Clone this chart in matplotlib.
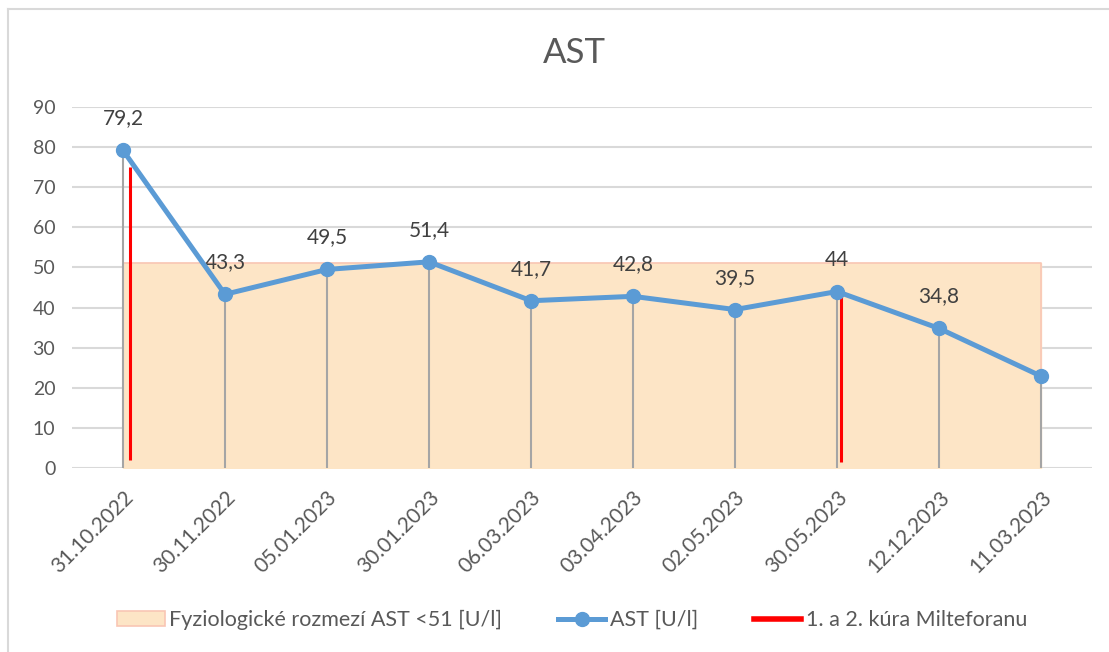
import matplotlib.pyplot as plt
from matplotlib.patches import Patch
from matplotlib.lines import Line2D

plt.rcParams['font.family'] = ['Lato', 'DejaVu Sans']

# data
dates = ['31.10.2022', '30.11.2022', '05.01.2023', '30.01.2023', '06.03.2023',
         '03.04.2023', '02.05.2023', '30.05.2023', '12.12.2023', '11.03.2023']
ast_vals = [79.2, 43.3, 49.5, 51.4, 41.7, 42.8, 39.5, 44, 34.8, 22.9]
ast_labels = ['79,2', '43,3', '49,5', '51,4', '41,7', '42,8', '39,5', '44', '34,8', '']
ref_limit = 51
# treatment markers (slightly right of the category)
cure_x = [0.07, 7.04]
cure_low = [2, 1.6]
cure_high = [75, 43.5]

txt_col = '#595959'
blue = '#5B9BD5'

fig = plt.figure(figsize=(11.09, 6.52), dpi=100)
ax = fig.add_axes([0.0649, 0.2822, 0.9198, 0.5537])

x = list(range(len(dates)))

# physiological range box
ax.fill_between([x[0], x[-1]], 0, ref_limit, color='#FDE5C6', zorder=1)
ax.plot([x[0], x[0], x[-1], x[-1]], [0, ref_limit, ref_limit, 0], color='#F9C6B4', lw=1.2, zorder=1)

# drop lines
ax.vlines(x, 0, ast_vals, color='#A5A5A5', lw=1.5, zorder=2)

# red treatment lines
ax.vlines(cure_x, cure_low, cure_high, color='#FF0000', lw=2.2, zorder=3)

ax.plot(x, ast_vals, color=blue, lw=3.6, marker='o', ms=10, zorder=4)

for xi, v, lab in zip(x, ast_vals, ast_labels):
    ax.annotate(lab, (xi, v), xytext=(0, 23), textcoords='offset points',
                ha='center', va='center', fontsize=15, color='#404040')

ax.set_xlim(-0.5, 9.5)
ax.set_ylim(0, 90)
ax.set_yticks(range(0, 91, 10))
ax.grid(axis='y', color='#D9D9D9', lw=1.5, zorder=0)
ax.set_axisbelow(True)
for s in ax.spines.values():
    s.set_visible(False)
ax.tick_params(length=0, colors=txt_col)
ax.tick_params(axis='y', pad=12, labelsize=14)
ax.set_xticks(x)
ax.set_xticklabels(dates, rotation=45, ha='right', rotation_mode='anchor')
ax.tick_params(axis='x', pad=14, labelsize=15)

fig.text(0.518, 0.918, 'AST', ha='center', va='center', fontsize=25, color=txt_col)

handles = [
    Patch(facecolor='#FDE5C6', edgecolor='#F9C6B4', lw=1.2),
    Line2D([], [], color=blue, lw=3.6, marker='o', ms=10),
    Line2D([], [], color='#FF0000', lw=4),
]
labels = ['Fyziologické rozmezí AST <51 [U/l]', 'AST [U/l]', '1. a 2. kúra Milteforanu']
fig.legend(handles, labels, loc='center', bbox_to_anchor=(0.516, 0.049), ncol=3,
           frameon=False, fontsize=15.5, labelcolor=txt_col, handlelength=2.2,
           handletextpad=0.2, columnspacing=2.6)

# chart frame (left and top edges visible)
fig.add_artist(Line2D([0.0072, 0.0072], [0, 0.986], color='#D9D9D9', lw=1.5, transform=fig.transFigure))
fig.add_artist(Line2D([0.0072, 1], [0.986, 0.986], color='#D9D9D9', lw=1.5, transform=fig.transFigure))

fig.savefig('out.png', dpi=100)
